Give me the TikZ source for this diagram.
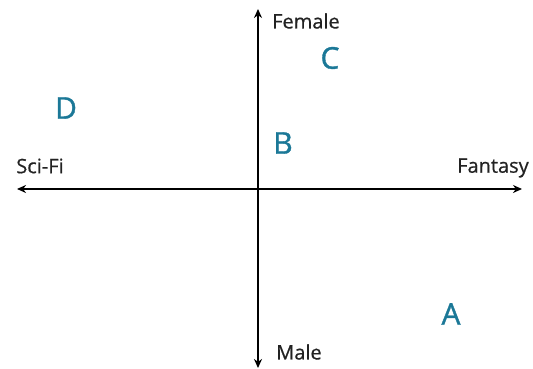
\documentclass[tikz,border=0pt]{standalone}
\usepackage{fontspec}
\setmainfont{Open Sans}
\newfontface\ptface[FakeBold=1.2]{Open Sans}
\newfontface\lblface[FakeBold=0.6]{Open Sans}
\usetikzlibrary{arrows.meta}
\definecolor{teal1}{HTML}{1B7897}
\definecolor{lab}{HTML}{222222}
\begin{document}
\begin{tikzpicture}[x=1pt,y=1pt,
  axis/.style={line width=2pt,-{Stealth[length=9pt,width=8pt]},black},
  lbl/.style={text=lab,font=\lblface\fontsize{20}{22}\selectfont,inner sep=0pt},
  pt/.style={text=teal1,font=\ptface\fontsize{30}{32}\selectfont,inner sep=0pt}]
\useasboundingbox (0,0) rectangle (533,369);
\coordinate (o) at (258,180);
\coordinate (l) at (17,180);
\coordinate (r) at (522,180);
\coordinate (t) at (258,360);
\coordinate (b) at (258,1);
\draw[axis] (o) -- (l);
\draw[axis] (o) -- (r);
\draw[axis] (o) -- (t);
\draw[axis] (o) -- (b);
\node[lbl] (female) at (306,348) {Female};
\node[lbl] (male) at (299,17) {Male};
\node[lbl] (scifi) at (40,203) {Sci-Fi};
\node[lbl] (fantasy) at (493,201) {Fantasy};
\node[pt] (D) at (66,261) {D};
\node[pt] (C) at (330,311) {C};
\node[pt] (B) at (283,226) {B};
\node[pt] (A) at (451,55) {A};
\end{tikzpicture}
\end{document}
